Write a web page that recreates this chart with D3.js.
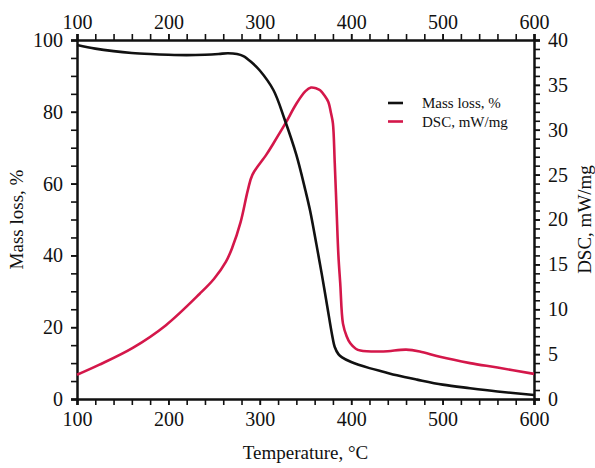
<!DOCTYPE html>
<html>
<head>
<meta charset="utf-8">
<script src="https://cdn.jsdelivr.net/npm/d3@7"></script>
<style>
  body { margin: 0; background: #fff; }
  text { font-family: "Liberation Serif", "Times New Roman", serif; fill: #111; }
</style>
</head>
<body>
<div id="chart"></div>
<script>
'use strict';

// temperature (°C) / mass loss (%)
var massT = [100, 120, 140, 160, 180, 200, 220, 240, 255, 265, 275, 282, 290, 300, 315, 327, 340, 350, 355, 362, 368, 374, 379, 382, 386, 390, 400, 420, 435, 450, 472, 500, 530, 560, 600];
var massV = [98.6, 97.6, 96.9, 96.4, 96.1, 95.9, 95.8, 95.9, 96.1, 96.3, 96.1, 95.5, 94, 91.5, 86, 78, 68, 58, 52.5, 43, 34.5, 25.5, 18, 14.5, 12.5, 11.6, 10.3, 8.6, 7.6, 6.6, 5.4, 4.0, 3.0, 2.1, 1.1];

// temperature (°C) / DSC (mW/mg)
var dscT = [100, 124, 161, 197, 234, 250, 263, 270, 279, 287, 292, 307, 315, 328, 340, 350, 356, 362, 366, 371, 375, 378, 380, 382, 384, 386, 388, 391, 395, 399, 405, 410, 435, 460, 475, 497, 530, 560, 600];
var dscV = [2.7, 3.8, 5.7, 8.2, 11.7, 13.4, 15.3, 16.9, 19.7, 23.3, 25, 27.2, 28.5, 30.7, 32.9, 34.3, 34.7, 34.6, 34.4, 33.8, 33.1, 31.8, 30.7, 26.3, 21.1, 16, 12.9, 8.4, 7, 6.2, 5.6, 5.4, 5.3, 5.5, 5.3, 4.7, 4.0, 3.5, 2.8];

var xTicks = [100, 200, 300, 400, 500, 600];
var leftTicks = [0, 20, 40, 60, 80, 100];
var rightTicks = [0, 5, 10, 15, 20, 25, 30, 35, 40];

var legendItems = ["Mass loss, %", "DSC, mW/mg"];
var colors = ["#111111", "#d4174a"];

var W = 595, H = 468;
var m = { left: 77, right: 534, top: 40, bottom: 399 };

var svg = d3.select("#chart").append("svg")
    .attr("width", W)
    .attr("height", H);

var x = d3.scaleLinear().domain([100, 600]).range([m.left, m.right]);
var yL = d3.scaleLinear().domain([0, 100]).range([m.bottom, m.top]);
var yR = d3.scaleLinear().domain([0, 40]).range([m.bottom, m.top]);

var minorX = d3.range(100, 601, 20);
var minorL = d3.range(0, 101, 5);
var minorR = d3.range(0, 41, 1);

function styleAxis(g) {
    g.selectAll("path.domain").attr("stroke", "#111").attr("stroke-width", 2);
    g.selectAll(".tick line").attr("stroke", "#111").attr("stroke-width", 1.6);
    g.selectAll(".tick text").style("font-size", "20px");
}

// minor ticks (no labels)
svg.append("g").attr("transform", "translate(0," + m.bottom + ")")
    .call(d3.axisBottom(x).tickValues(minorX).tickSize(6).tickFormat(""))
    .call(styleAxis);
svg.append("g").attr("transform", "translate(0," + m.top + ")")
    .call(d3.axisTop(x).tickValues(minorX).tickSize(6).tickFormat(""))
    .call(styleAxis);
svg.append("g").attr("transform", "translate(" + m.left + ",0)")
    .call(d3.axisLeft(yL).tickValues(minorL).tickSize(6).tickFormat(""))
    .call(styleAxis);
svg.append("g").attr("transform", "translate(" + m.right + ",0)")
    .call(d3.axisRight(yR).tickValues(minorR).tickSize(6).tickFormat(""))
    .call(styleAxis);

// labelled axes
svg.append("g").attr("transform", "translate(0," + m.bottom + ")")
    .call(d3.axisBottom(x).tickValues(xTicks).tickSize(6).tickPadding(7).tickFormat(d3.format("d")))
    .call(styleAxis);
svg.append("g").attr("transform", "translate(0," + m.top + ")")
    .call(d3.axisTop(x).tickValues(xTicks).tickSize(6).tickPadding(5).tickFormat(d3.format("d")))
    .call(styleAxis);
svg.append("g").attr("transform", "translate(" + m.left + ",0)")
    .call(d3.axisLeft(yL).tickValues(leftTicks).tickSize(6).tickPadding(8).tickFormat(d3.format("d")))
    .call(styleAxis);
svg.append("g").attr("transform", "translate(" + m.right + ",0)")
    .call(d3.axisRight(yR).tickValues(rightTicks).tickSize(6).tickPadding(8).tickFormat(d3.format("d")))
    .call(styleAxis);

// curves
var massLine = d3.line()
    .x(function (d, i) { return x(massT[i]); })
    .y(function (d) { return yL(d); })
    .curve(d3.curveCatmullRom.alpha(0.5));

var dscLine = d3.line()
    .x(function (d, i) { return x(dscT[i]); })
    .y(function (d) { return yR(d); })
    .curve(d3.curveCatmullRom.alpha(0.5));

svg.append("path")
    .datum(dscV)
    .attr("d", dscLine)
    .attr("fill", "none")
    .attr("stroke", colors[1])
    .attr("stroke-width", 2.6);

svg.append("path")
    .datum(massV)
    .attr("d", massLine)
    .attr("fill", "none")
    .attr("stroke", colors[0])
    .attr("stroke-width", 2.6);

// axis titles
svg.append("text")
    .attr("x", (m.left + m.right) / 2)
    .attr("y", 459)
    .attr("text-anchor", "middle")
    .style("font-size", "19px")
    .text("Temperature, °C");

svg.append("text")
    .attr("transform", "translate(23," + ((m.top + m.bottom) / 2) + ") rotate(-90)")
    .attr("text-anchor", "middle")
    .style("font-size", "19px")
    .text("Mass loss, %");

svg.append("text")
    .attr("transform", "translate(591," + ((m.top + m.bottom) / 2) + ") rotate(-90)")
    .attr("text-anchor", "middle")
    .style("font-size", "19px")
    .text("DSC, mW/mg");

// legend
var legend = svg.append("g").attr("transform", "translate(388,103)");
legend.selectAll("line")
    .data(legendItems)
    .enter().append("line")
    .attr("x1", 0).attr("x2", 15)
    .attr("y1", function (d, i) { return i * 18.5; })
    .attr("y2", function (d, i) { return i * 18.5; })
    .attr("stroke", function (d, i) { return colors[i]; })
    .attr("stroke-width", 2.6);
legend.selectAll("text")
    .data(legendItems)
    .enter().append("text")
    .attr("x", 34)
    .attr("y", function (d, i) { return i * 18.5 + 5; })
    .style("font-size", "15px")
    .text(function (d) { return d; });
</script>
</body>
</html>
